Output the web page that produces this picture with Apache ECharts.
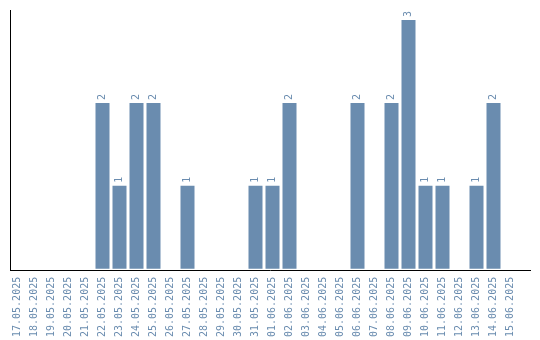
<!DOCTYPE html>
<html><head><meta charset="utf-8">
<script src="https://cdn.jsdelivr.net/npm/echarts@6/dist/echarts.min.js"></script>
<style>html,body{margin:0;padding:0;background:#fff}#c{width:540px;height:340px}</style>
</head><body><div id="c"></div>
<script>
const categories = ["17.05.2025","18.05.2025","19.05.2025","20.05.2025","21.05.2025","22.05.2025","23.05.2025","24.05.2025","25.05.2025","26.05.2025","27.05.2025","28.05.2025","29.05.2025","30.05.2025","31.05.2025","01.06.2025","02.06.2025","03.06.2025","04.06.2025","05.06.2025","06.06.2025","07.06.2025","08.06.2025","09.06.2025","10.06.2025","11.06.2025","12.06.2025","13.06.2025","14.06.2025","15.06.2025"];
const values = [0,0,0,0,0,2,1,2,2,0,1,0,0,0,1,1,2,0,0,0,2,0,2,3,1,1,0,1,2,0];
const color = '#6a8caf';
const chart = echarts.init(document.getElementById('c'));
chart.setOption({
  animation:false,
  grid:{left:9,top:10,width:510,bottom:70,containLabel:false},
  xAxis:{type:'category',data:categories,
    axisLine:{show:false},axisTick:{show:false},
    axisLabel:{rotate:90,interval:0,color:color,fontFamily:'DejaVu Sans Mono',fontSize:10,margin:8}},
  yAxis:{type:'value',min:0,max:3.12,splitLine:{show:false},axisLabel:{show:false},axisTick:{show:false},
    axisLine:{show:false}},
  graphic:[
    {type:'line',shape:{x1:10,y1:270.5,x2:531,y2:270.5},style:{stroke:'#000',lineWidth:1},z:100},
    {type:'line',shape:{x1:10.5,y1:10,x2:10.5,y2:271},style:{stroke:'#000',lineWidth:1},z:100}
  ],
  series:[{type:'bar',data:values.map(v=>v===0?null:v),barWidth:14,itemStyle:{color:color},
    label:{show:true,position:'top',rotate:90,align:'left',verticalAlign:'middle',distance:3,color:color,fontFamily:'DejaVu Sans Mono',fontSize:10}}]
});
</script></body></html>
